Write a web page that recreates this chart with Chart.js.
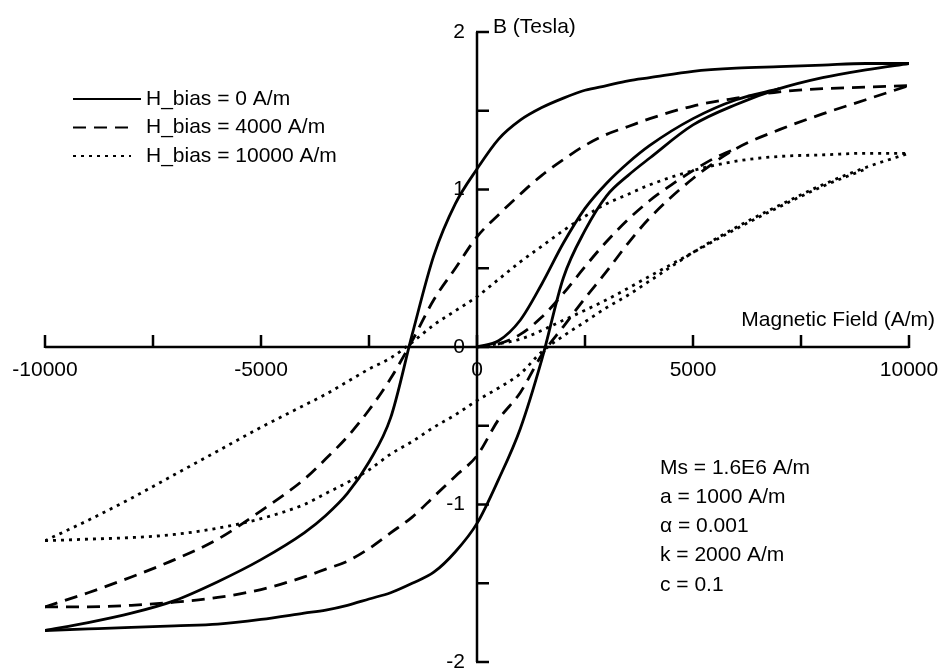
<!DOCTYPE html>
<html>
<head>
<meta charset="utf-8">
<script src="https://cdn.jsdelivr.net/npm/chart.js@4"></script>
<style>
  html, body { margin: 0; padding: 0; background: #fff; }
  canvas { display: block; }
</style>
</head>
<body>
<canvas id="loops" width="943" height="669"></canvas>
<script>
// field grid shared by the loop branches (A/m)
const fieldGrid = [-10000, -9000, -8000, -7000, -6000, -5000, -4000, -3500, -3000, -2500, -2000, -1500, -1000, -500,
    0, 500, 1000, 1500, 2000, 2500, 3000, 3500, 4000, 5000, 6000, 7000, 8000, 9000, 10000];

// H_bias = 0 A/m
const bias0Down = [-1.80, -1.75, -1.69, -1.61, -1.49, -1.35, -1.18, -1.07, -0.93, -0.73, -0.45, 0.08, 0.58, 0.91,
    1.13, 1.32, 1.44, 1.52, 1.58, 1.63, 1.66, 1.69, 1.71, 1.75, 1.77, 1.78, 1.79, 1.80, 1.80];
const bias0Up = [-1.80, -1.79, -1.78, -1.77, -1.76, -1.73, -1.69, -1.67, -1.64, -1.60, -1.56, -1.50, -1.43, -1.30,
    -1.12, -0.84, -0.52, -0.08, 0.44, 0.74, 0.96, 1.09, 1.20, 1.41, 1.54, 1.64, 1.71, 1.76, 1.80];
const bias0InitH = [0, 500, 1000, 1500, 2000, 2500, 3000, 3500, 4000, 5000, 6000, 7000];
const bias0Init = [0, 0.04, 0.17, 0.40, 0.66, 0.88, 1.04, 1.17, 1.28, 1.45, 1.57, 1.64];

// H_bias = 4000 A/m
const bias4000Down = [-1.65, -1.56, -1.46, -1.35, -1.22, -1.04, -0.84, -0.71, -0.57, -0.40, -0.20, 0.04, 0.30, 0.50,
    0.70, 0.84, 0.97, 1.09, 1.19, 1.28, 1.35, 1.40, 1.45, 1.53, 1.58, 1.62, 1.64, 1.65, 1.66];
const bias4000Up = [-1.65, -1.65, -1.64, -1.62, -1.59, -1.54, -1.46, -1.41, -1.36, -1.28, -1.18, -1.08, -0.95, -0.82,
    -0.69, -0.46, -0.29, -0.05, 0.13, 0.31, 0.48, 0.66, 0.82, 1.07, 1.26, 1.38, 1.48, 1.57, 1.66];
const bias4000InitH = [0, 500, 1000, 1500, 2000, 2500, 3000, 3500, 4000, 4500, 5000, 5500, 6000];
const bias4000Init = [0, 0.02, 0.08, 0.19, 0.34, 0.51, 0.67, 0.81, 0.93, 1.03, 1.12, 1.20, 1.26];

// H_bias = 10000 A/m
const bias10000Down = [-1.23, -1.10, -0.96, -0.81, -0.66, -0.51, -0.37, -0.30, -0.22, -0.14, -0.07, 0.03, 0.14, 0.23,
    0.32, 0.43, 0.54, 0.64, 0.74, 0.83, 0.91, 0.97, 1.03, 1.12, 1.18, 1.21, 1.22, 1.23, 1.23];
const bias10000Up = [-1.23, -1.22, -1.21, -1.19, -1.15, -1.09, -1.00, -0.93, -0.86, -0.78, -0.68, -0.60, -0.51, -0.43,
    -0.34, -0.26, -0.17, -0.03, 0.07, 0.16, 0.25, 0.33, 0.42, 0.60, 0.76, 0.90, 1.03, 1.14, 1.23];
const bias10000InitH = [0, 1000, 2000, 3000, 4000, 5000, 6000, 7000, 8000, 9000];
const bias10000Init = [0, 0.05, 0.17, 0.30, 0.45, 0.60, 0.75, 0.89, 1.02, 1.13];

const xTickValues = [-10000, -7500, -5000, -2500, 0, 2500, 5000, 7500, 10000];
const xTickLabels = ['-10000', '-5000', '0', '5000', '10000'];
const yTickValues = [-2, -1.5, -1, -0.5, 0, 0.5, 1, 1.5, 2];
const yTickLabels = ['2', '1', '0', '-1', '-2'];

const legendLabels = ['H_bias = 0 A/m', 'H_bias = 4000 A/m', 'H_bias = 10000 A/m'];
const paramLines = ['Ms = 1.6E6 A/m', 'a = 1000 A/m', '\u03b1 = 0.001', 'k = 2000 A/m', 'c = 0.1'];

const FONT = '21px "Liberation Sans", Arial, Helvetica, sans-serif';
const dashes = [[], [13, 8], [3, 5]];

const toPoints = (hs, bs) => hs.map((h, i) => ({ x: h, y: bs[i] }));

const series = [
    [bias0Down, bias0Up, bias0InitH, bias0Init],
    [bias4000Down, bias4000Up, bias4000InitH, bias4000Init],
    [bias10000Down, bias10000Up, bias10000InitH, bias10000Init],
];

const datasets = [];
series.forEach(([down, up, initH, init], i) => {
    const base = {
        label: legendLabels[i],
        borderColor: '#000',
        borderWidth: 2.8,
        borderDash: dashes[i],
        pointRadius: 0,
        showLine: true,
        fill: false,
        cubicInterpolationMode: 'monotone',
    };
    datasets.push({ ...base, data: toPoints(fieldGrid, down) });
    datasets.push({ ...base, data: toPoints(fieldGrid, up) });
    datasets.push({ ...base, data: toPoints(initH, init) });
});

const axesPlugin = {
    id: 'crossAxes',
    afterDatasetsDraw(chart) {
        const { ctx, scales: { x, y } } = chart;
        const x0 = x.getPixelForValue(0);
        const y0 = y.getPixelForValue(0);
        ctx.save();
        ctx.strokeStyle = '#000';
        ctx.fillStyle = '#000';
        ctx.lineWidth = 2.5;
        ctx.lineCap = 'butt';

        // horizontal axis with upward ticks
        ctx.beginPath();
        ctx.moveTo(x.getPixelForValue(-10000), y0);
        ctx.lineTo(x.getPixelForValue(10000), y0);
        xTickValues.forEach((v) => {
            const px = x.getPixelForValue(v);
            ctx.moveTo(px, y0 + 1);
            ctx.lineTo(px, y0 - 12);
        });
        ctx.stroke();

        // vertical axis with ticks to the right
        ctx.beginPath();
        ctx.moveTo(x0, y.getPixelForValue(2));
        ctx.lineTo(x0, y.getPixelForValue(-2));
        yTickValues.forEach((v) => {
            const py = y.getPixelForValue(v);
            ctx.moveTo(x0 - 1, py);
            ctx.lineTo(x0 + 12, py);
        });
        ctx.stroke();

        ctx.font = FONT;
        ctx.textBaseline = 'middle';
        ctx.textAlign = 'center';
        xTickLabels.forEach((t) => {
            ctx.fillText(t, x.getPixelForValue(Number(t)), y0 + 23);
        });
        ctx.textAlign = 'right';
        yTickLabels.forEach((t) => {
            ctx.fillText(t, x0 - 12, y.getPixelForValue(Number(t)));
        });

        // axis titles
        ctx.textAlign = 'left';
        ctx.fillText('B (Tesla)', x0 + 16, y.getPixelForValue(2) - 5);
        ctx.textAlign = 'right';
        ctx.fillText('Magnetic Field (A/m)', 935, y0 - 27);

        // legend
        legendLabels.forEach((label, i) => {
            const ly = 99 + i * 28.5;
            ctx.setLineDash(dashes[i]);
            ctx.lineWidth = 2.2;
            ctx.beginPath();
            ctx.moveTo(73, ly);
            ctx.lineTo(i === 0 ? 141 : 131, ly);
            ctx.stroke();
            ctx.setLineDash([]);
            ctx.textAlign = 'left';
            ctx.fillText(label, 146, ly);
        });

        // model parameters
        paramLines.forEach((line, i) => {
            ctx.fillText(line, 660, 468 + i * 29.2);
        });
        ctx.restore();
    },
};

new Chart(document.getElementById('loops').getContext('2d'), {
    type: 'scatter',
    data: { datasets },
    options: {
        responsive: false,
        animation: false,
        events: [],
        layout: { padding: { left: 45, right: 34, top: 32, bottom: 7 } },
        plugins: { legend: { display: false }, tooltip: { enabled: false } },
        scales: {
            x: { type: 'linear', min: -10000, max: 10000, display: false },
            y: { type: 'linear', min: -2, max: 2, display: false },
        },
    },
    plugins: [axesPlugin],
});
</script>
</body>
</html>
